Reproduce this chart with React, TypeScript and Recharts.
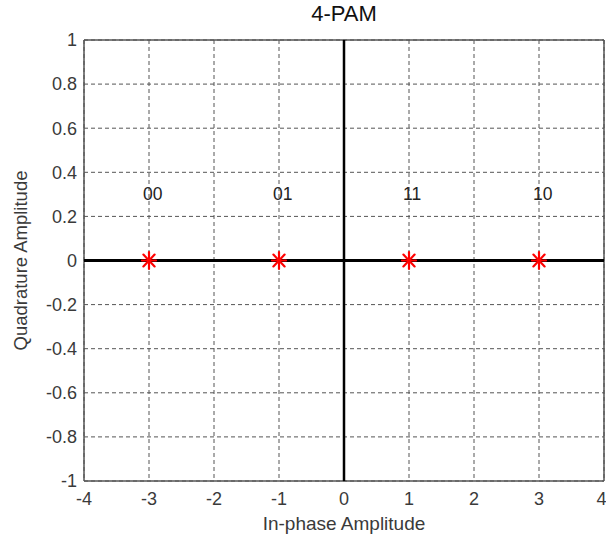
import React from 'react';
import {
  ScatterChart, Scatter, XAxis, YAxis, CartesianGrid, ReferenceLine,
} from 'recharts';

const symbolX = [-3, -1, 1, 3];
const symbolY = [0, 0, 0, 0];
const bitLabels = ['00', '01', '11', '10'];
const labelY = 0.3;
const xTicks = [-4, -3, -2, -1, 0, 1, 2, 3, 4];
const yTicks = [-1, -0.8, -0.6, -0.4, -0.2, 0, 0.2, 0.4, 0.6, 0.8, 1];

const points = symbolX.map((x, i) => ({ x, y: symbolY[i] }));
const labels = symbolX.map((x, i) => ({ x, y: labelY, text: bitLabels[i] }));

const FONT = '"Liberation Sans", Arial, sans-serif';
const TXT = '#3a3a3a';

const Star = (props: any) => {
  const { cx, cy } = props;
  const s = 7;
  const v = 8.5;
  return (
    <g stroke="#ff0000" strokeWidth={2.2} strokeLinecap="round">
      <line x1={cx} y1={cy - v} x2={cx} y2={cy + v} />
      <line x1={cx - s} y1={cy} x2={cx + s} y2={cy} />
      <line x1={cx - s * 0.8} y1={cy - v * 0.7} x2={cx + s * 0.8} y2={cy + v * 0.7} />
      <line x1={cx - s * 0.8} y1={cy + v * 0.7} x2={cx + s * 0.8} y2={cy - v * 0.7} />
    </g>
  );
};

const BitLabel = (props: any) => {
  const { cx, cy, payload } = props;
  return (
    <text x={cx - 6} y={cy} dominantBaseline="central" textAnchor="start"
      fontFamily={FONT} fontSize={17.5} fill="#222">
      {payload.text}
    </text>
  );
};

export default function App() {
  return (
    <div style={{ position: 'absolute', left: 0, top: 0, width: 606, height: 537, background: '#fff' }}>
      <div style={{ position: 'absolute', left: 0, top: 1, width: 688, textAlign: 'center',
        fontFamily: FONT, fontSize: 22, color: '#111', lineHeight: '26px' }}>4-PAM</div>
      <ScatterChart width={606} height={537} margin={{ top: 40, right: 2, left: 0, bottom: 0 }}
        style={{ overflow: 'visible' }}>
        <CartesianGrid stroke="#555" strokeDasharray="4 3" strokeWidth={1} />
        <XAxis type="number" dataKey="x" domain={[-4, 4]} ticks={xTicks} height={56}
          tickLine={false} axisLine={false} tickSize={0} tickMargin={11}
          allowDataOverflow
          tick={{ fontFamily: FONT, fontSize: 18, fill: TXT }}
          label={{ value: 'In-phase Amplitude', position: 'insideBottom', offset: 7,
            style: { fontFamily: FONT, fontSize: 19, fill: TXT } }} />
        <YAxis type="number" dataKey="y" domain={[-1, 1]} ticks={yTicks} width={84}
          tickLine={false} axisLine={false} tickSize={0} tickMargin={7}
          allowDataOverflow
          tick={{ fontFamily: FONT, fontSize: 18, fill: TXT }}
          label={{ value: 'Quadrature Amplitude', angle: -90, position: 'insideLeft', offset: 20,
            style: { fontFamily: FONT, fontSize: 18.5, fill: TXT, textAnchor: 'middle' } }} />
        <ReferenceLine y={1} stroke="#555" strokeWidth={1.5} />
        <ReferenceLine y={-1} stroke="#555" strokeWidth={1.5} />
        <ReferenceLine x={-4} stroke="#555" strokeWidth={1.5} />
        <ReferenceLine x={4} stroke="#555" strokeWidth={1.5} />
        <ReferenceLine y={0} stroke="#000" strokeWidth={3} />
        <ReferenceLine x={0} stroke="#000" strokeWidth={2.5} />
        <Scatter data={labels} shape={BitLabel} isAnimationActive={false} />
        <Scatter data={points} shape={Star} isAnimationActive={false} />
      </ScatterChart>
    </div>
  );
}
